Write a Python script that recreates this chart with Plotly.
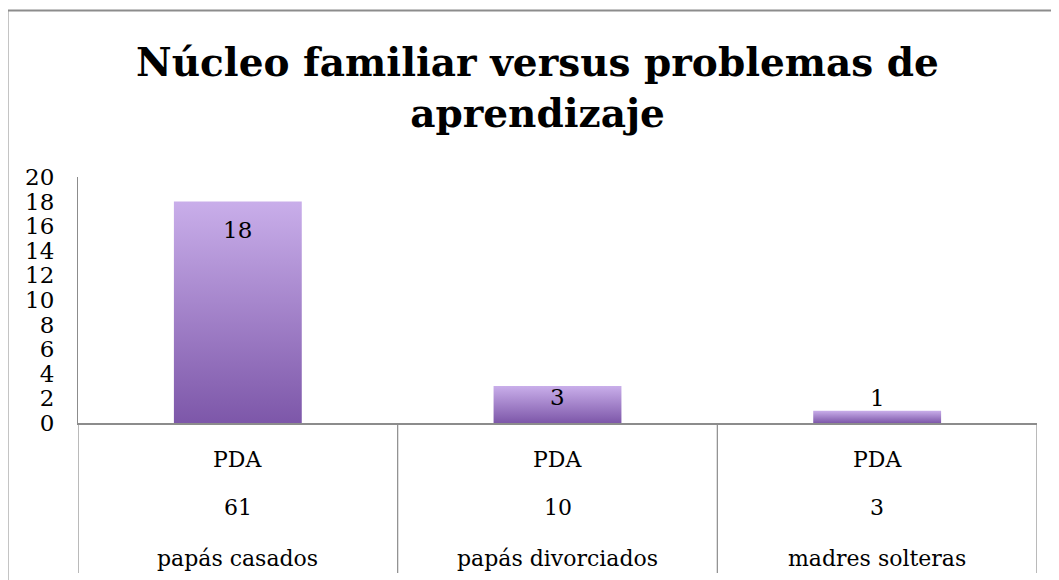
import plotly.graph_objects as go

# data
CATEGORIES = ["papás casados", "papás divorciados", "madres solteras"]
TOTALS = ["61", "10", "3"]
GROUP_LABEL = "PDA"
PDA_VALUES = [18, 3, 1]

TITLE = "Núcleo familiar versus problemas de<br>aprendizaje"

FONT = "DejaVu Serif"
BAR_HALF = 0.2
BAR_LIGHT = "#c9aeea"
BAR_DARK = "#7d57a9"
GREY = "#8c8c8c"

fig = go.Figure()

for i, v in enumerate(PDA_VALUES):
    fig.add_trace(
        go.Scatter(
            x=[i - BAR_HALF, i - BAR_HALF, i + BAR_HALF, i + BAR_HALF, i - BAR_HALF],
            y=[0, v, v, 0, 0],
            mode="lines",
            fill="toself",
            fillgradient=dict(
                type="vertical",
                colorscale=[[0, BAR_DARK], [1, BAR_LIGHT]],
            ),
            line=dict(width=0),
            hoverinfo="skip",
            showlegend=False,
        )
    )

# value labels: inside near the top when the bar is tall enough, else above
for i, v in enumerate(PDA_VALUES):
    inside = v >= 2
    fig.add_annotation(
        x=i,
        y=v,
        text=str(v),
        showarrow=False,
        yanchor="top" if inside else "bottom",
        yshift=-13 if v > 5 else (4 if inside else -2),
        font=dict(family=FONT, size=23, color="#000000"),
    )

# three-level category labels under the axis
for i, (cat, tot) in enumerate(zip(CATEGORIES, TOTALS)):
    for text, shift in ((GROUP_LABEL, -36), (tot, -84), (cat, -135)):
        fig.add_annotation(
            x=i,
            y=0,
            xref="x",
            yref="paper",
            text=text,
            showarrow=False,
            yanchor="middle",
            yshift=shift,
            font=dict(family=FONT, size=22, color="#000000"),
        )

# category separators reaching down through the label rows
for b in range(len(CATEGORIES) + 1):
    fig.add_shape(
        type="line",
        xref="x",
        yref="paper",
        x0=b - 0.5,
        x1=b - 0.5,
        y0=0,
        y1=-0.61,
        line=dict(color=GREY, width=1.2),
    )

# outer chart border (only its top and left edges fall inside the picture)
fig.add_shape(
    type="rect",
    xref="paper",
    yref="paper",
    x0=-0.0735,
    x1=1.1,
    y0=-0.8,
    y1=1.677,
    line=dict(color=GREY, width=2),
    fillcolor="rgba(0,0,0,0)",
    layer="below",
)

fig.update_layout(
    width=1059,
    height=580,
    margin=dict(l=70, r=30, t=169, b=165),
    paper_bgcolor="#ffffff",
    plot_bgcolor="#ffffff",
    title=dict(
        text=TITLE,
        x=0.5,
        xref="container",
        xanchor="center",
        y=0.883,
        yref="container",
        yanchor="middle",
        font=dict(family=FONT, size=39, color="#000000", weight="bold"),
    ),
    xaxis=dict(
        range=[-0.5, 2.5],
        showgrid=False,
        zeroline=False,
        showticklabels=False,
        showline=True,
        linecolor=GREY,
        linewidth=1.5,
        fixedrange=True,
    ),
    yaxis=dict(
        range=[0, 20],
        dtick=2,
        showgrid=False,
        zeroline=False,
        showline=True,
        linecolor=GREY,
        linewidth=1.2,
        ticks="",
        ticklabelstandoff=18,
        tickfont=dict(family=FONT, size=23, color="#000000"),
        fixedrange=True,
    ),
)

fig.write_html("out.html")
